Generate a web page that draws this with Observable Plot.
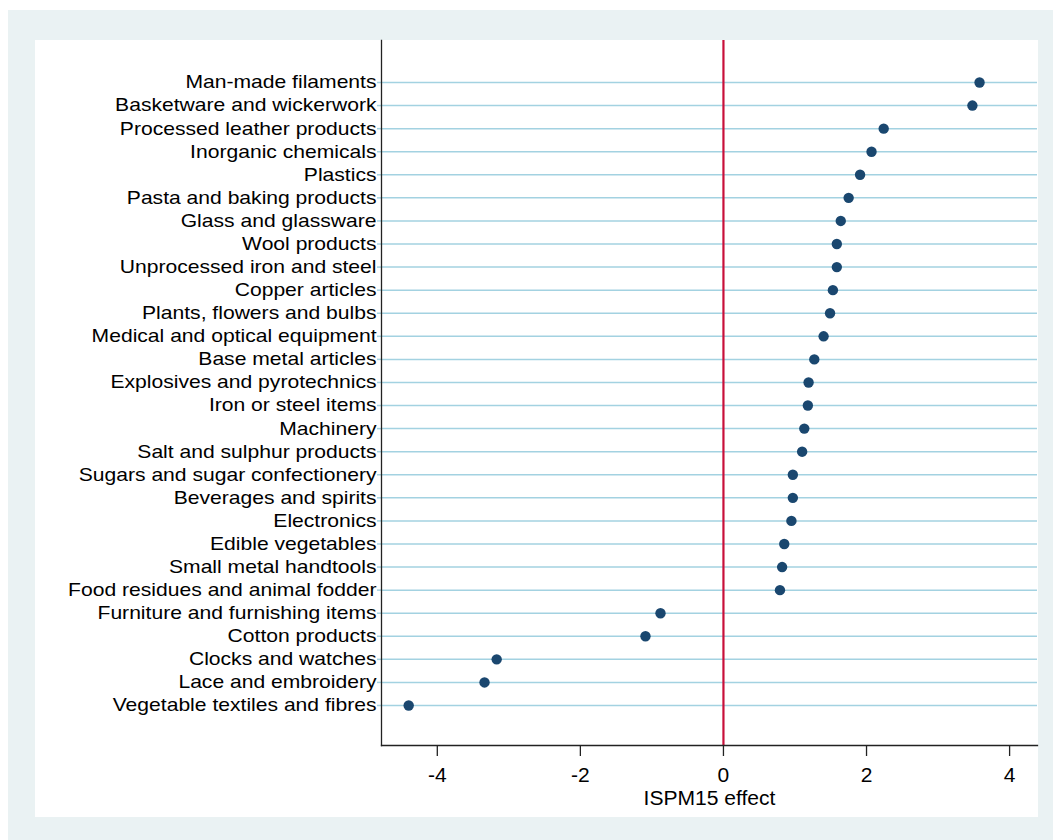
<!DOCTYPE html>
<html>
<head>
<meta charset="utf-8">
<script src="https://cdn.jsdelivr.net/npm/d3@7"></script>
<script src="https://cdn.jsdelivr.net/npm/@observablehq/plot@0.6"></script>
<style>
  html, body { margin: 0; padding: 0; background: #ffffff; }
  #wrap { position: relative; width: 1053px; height: 840px; overflow: hidden; }
  #outer { position: absolute; left: 8px; top: 10px; width: 1045px; height: 830px; background: #eaf2f3; }
  #inner { position: absolute; left: 35px; top: 40px; width: 1003px; height: 777px; background: #ffffff; }
  #chart { position: absolute; left: 0; top: 0; }
</style>
</head>
<body>
<div id="wrap">
  <div id="outer"></div>
  <div id="inner"></div>
  <div id="chart"></div>
</div>
<script>
const categories = [
  "Man-made filaments",
  "Basketware and wickerwork",
  "Processed leather products",
  "Inorganic chemicals",
  "Plastics",
  "Pasta and baking products",
  "Glass and glassware",
  "Wool products",
  "Unprocessed iron and steel",
  "Copper articles",
  "Plants, flowers and bulbs",
  "Medical and optical equipment",
  "Base metal articles",
  "Explosives and pyrotechnics",
  "Iron or steel items",
  "Machinery",
  "Salt and sulphur products",
  "Sugars and sugar confectionery",
  "Beverages and spirits",
  "Electronics",
  "Edible vegetables",
  "Small metal handtools",
  "Food residues and animal fodder",
  "Furniture and furnishing items",
  "Cotton products",
  "Clocks and watches",
  "Lace and embroidery",
  "Vegetable textiles and fibres"
];
const effects = [
  3.58, 3.48, 2.24, 2.07, 1.91, 1.75, 1.64, 1.585, 1.585, 1.53,
  1.49, 1.40, 1.27, 1.19, 1.18, 1.13, 1.10, 0.97, 0.97, 0.95,
  0.85, 0.82, 0.79, -0.88, -1.09, -3.17, -3.34, -4.40
];
const xTicks = [-4, -2, 0, 2, 4];
const xDomain = [-4.78, 4.39];
const xTitle = "ISPM15 effect";

const data = categories.map((c, i) => ({name: c, value: effects[i]}));

const gridColor = "#a3d2e1";

const chart = Plot.plot({
  width: 1053,
  height: 840,
  marginLeft: 381,
  marginRight: 16,
  marginTop: 40,
  marginBottom: 95,
  style: {background: "transparent", fontFamily: "'Liberation Sans', Arial, Helvetica, sans-serif", fontSize: "18.5px", color: "#000"},
  x: {domain: xDomain, ticks: xTicks},
  y: {type: "point", domain: categories, range: [82, 705], padding: 0, round: false},
  marks: [
    Plot.gridY({stroke: gridColor, strokeOpacity: 1, strokeWidth: 1.5}),
    Plot.axisY({tickSize: 4, tickPadding: 1, stroke: gridColor, strokeOpacity: 1, strokeWidth: 1.5, fill: "#000", label: null, fontSize: 18.5}),
    Plot.ruleX([0], {stroke: "#c8103a", strokeWidth: 2.2}),
    Plot.frame({anchor: "left", stroke: "#222", strokeWidth: 1.3}),
    Plot.frame({anchor: "bottom", stroke: "#222", strokeWidth: 1.3}),
    Plot.axisX({ticks: xTicks, tickSize: 11, tickPadding: 11, stroke: "#222", strokeWidth: 1.3, fill: "#000", label: null, fontSize: 21, tickFormat: d => d < 0 ? "-" + Math.abs(d) : String(d)}),
    Plot.text([xTitle], {frameAnchor: "bottom", dy: 53.7, fontSize: 19.5, fill: "#000", lineAnchor: "middle"}),
    Plot.dot(data, {x: "value", y: "name", r: 5.2, fill: "#1a476f", stroke: null})
  ]
});

document.getElementById("chart").appendChild(chart);

// Widen the labels slightly to match the reference's horizontally stretched type
function stretch(sel, k) {
  chart.querySelectorAll(sel).forEach(t => {
    const w = t.getComputedTextLength();
    if (w > 0) {
      t.setAttribute("textLength", (w * k).toFixed(1));
      t.setAttribute("lengthAdjust", "spacingAndGlyphs");
    }
  });
}
stretch('g[aria-label="y-axis tick label"] text', 1.14);
stretch('g[aria-label="text"] text', 1.08);
</script>
</body>
</html>
